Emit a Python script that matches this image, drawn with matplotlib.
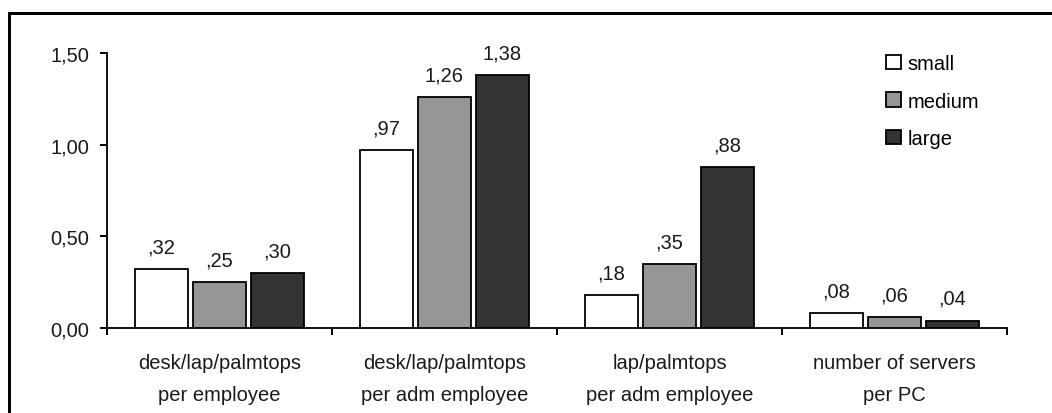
import matplotlib
matplotlib.use("Agg")
import matplotlib.pyplot as plt
from matplotlib.lines import Line2D
import numpy as np

categories = [
    "desk/lap/palmtops\nper employee",
    "desk/lap/palmtops\nper adm employee",
    "lap/palmtops\nper adm employee",
    "number of servers\nper PC",
]
series_names = ["small", "medium", "large"]
small = [0.32, 0.97, 0.18, 0.08]
medium = [0.25, 1.26, 0.35, 0.06]
large = [0.30, 1.38, 0.88, 0.04]
yticks = [0.0, 0.5, 1.0, 1.5]
ytick_labels = ["0,00", "0,50", "1,00", "1,50"]

colors = ["#ffffff", "#969696", "#333333"]

plt.rcParams["font.family"] = ["Liberation Sans", "DejaVu Sans"]
FS = 14.5

W, H = 1052, 414
fig = plt.figure(figsize=(W / 100, H / 100), dpi=100)
fig.patch.set_facecolor("white")

ax = fig.add_axes([107 / W, 1 - 329 / H, 900 / W, 275 / H])
ax.set_facecolor("none")

x = np.arange(len(categories)) + 0.5
width = 0.232
pitch = 0.258
for i, (name, vals) in enumerate(zip(series_names, [small, medium, large])):
    pos = x + (i - 1) * pitch
    ax.bar(pos, vals, width=width, color=colors[i], edgecolor="black",
           linewidth=1.3, label=name, zorder=3)
    for xp, v in zip(pos, vals):
        txt = f"{v:.2f}".replace(".", ",")
        if txt.startswith("0"):
            txt = txt[1:]
        ax.annotate(txt, (xp, v), xytext=(0, 12), textcoords="offset points",
                    ha="center", va="baseline", fontsize=FS, color="#1a1a1a")

ax.set_xlim(0, len(categories))
ax.set_ylim(0, 1.5)

for s in ["top", "right"]:
    ax.spines[s].set_visible(False)
for s in ["left", "bottom"]:
    ax.spines[s].set_linewidth(1.4)
    ax.spines[s].set_color("#111111")

ax.set_yticks(yticks)
ax.set_yticklabels(ytick_labels, fontsize=FS, color="#1a1a1a")
ax.tick_params(axis="y", direction="out", length=5, width=1.4, pad=8)

ax.set_xticks(np.arange(len(categories) + 1))
ax.set_xticklabels([])
ax.tick_params(axis="x", which="major", direction="out", length=5, width=1.4)
ax.set_xticks(x, minor=True)
ax.set_xticklabels(categories, minor=True, fontsize=FS, color="#1a1a1a",
                   linespacing=1.85)
ax.tick_params(axis="x", which="minor", length=0, pad=18)

leg = ax.legend(loc="upper left", bbox_to_anchor=(876 / W, 1 - 45 / H),
                bbox_transform=fig.transFigure, frameon=False, fontsize=FS,
                handlelength=0.72, handleheight=0.72, handletextpad=0.35,
                labelspacing=0.92, borderpad=0)

# outer frame (top and left edges)
lw = 3 * 72 / 100
xl = 8.5 / W
yt = 1 - 14 / H
fig.add_artist(Line2D([xl, xl, 1.02], [-0.02, yt, yt], transform=fig.transFigure,
                      color="black", linewidth=lw, solid_joinstyle="miter"))

fig.savefig("out.png", dpi=100)
